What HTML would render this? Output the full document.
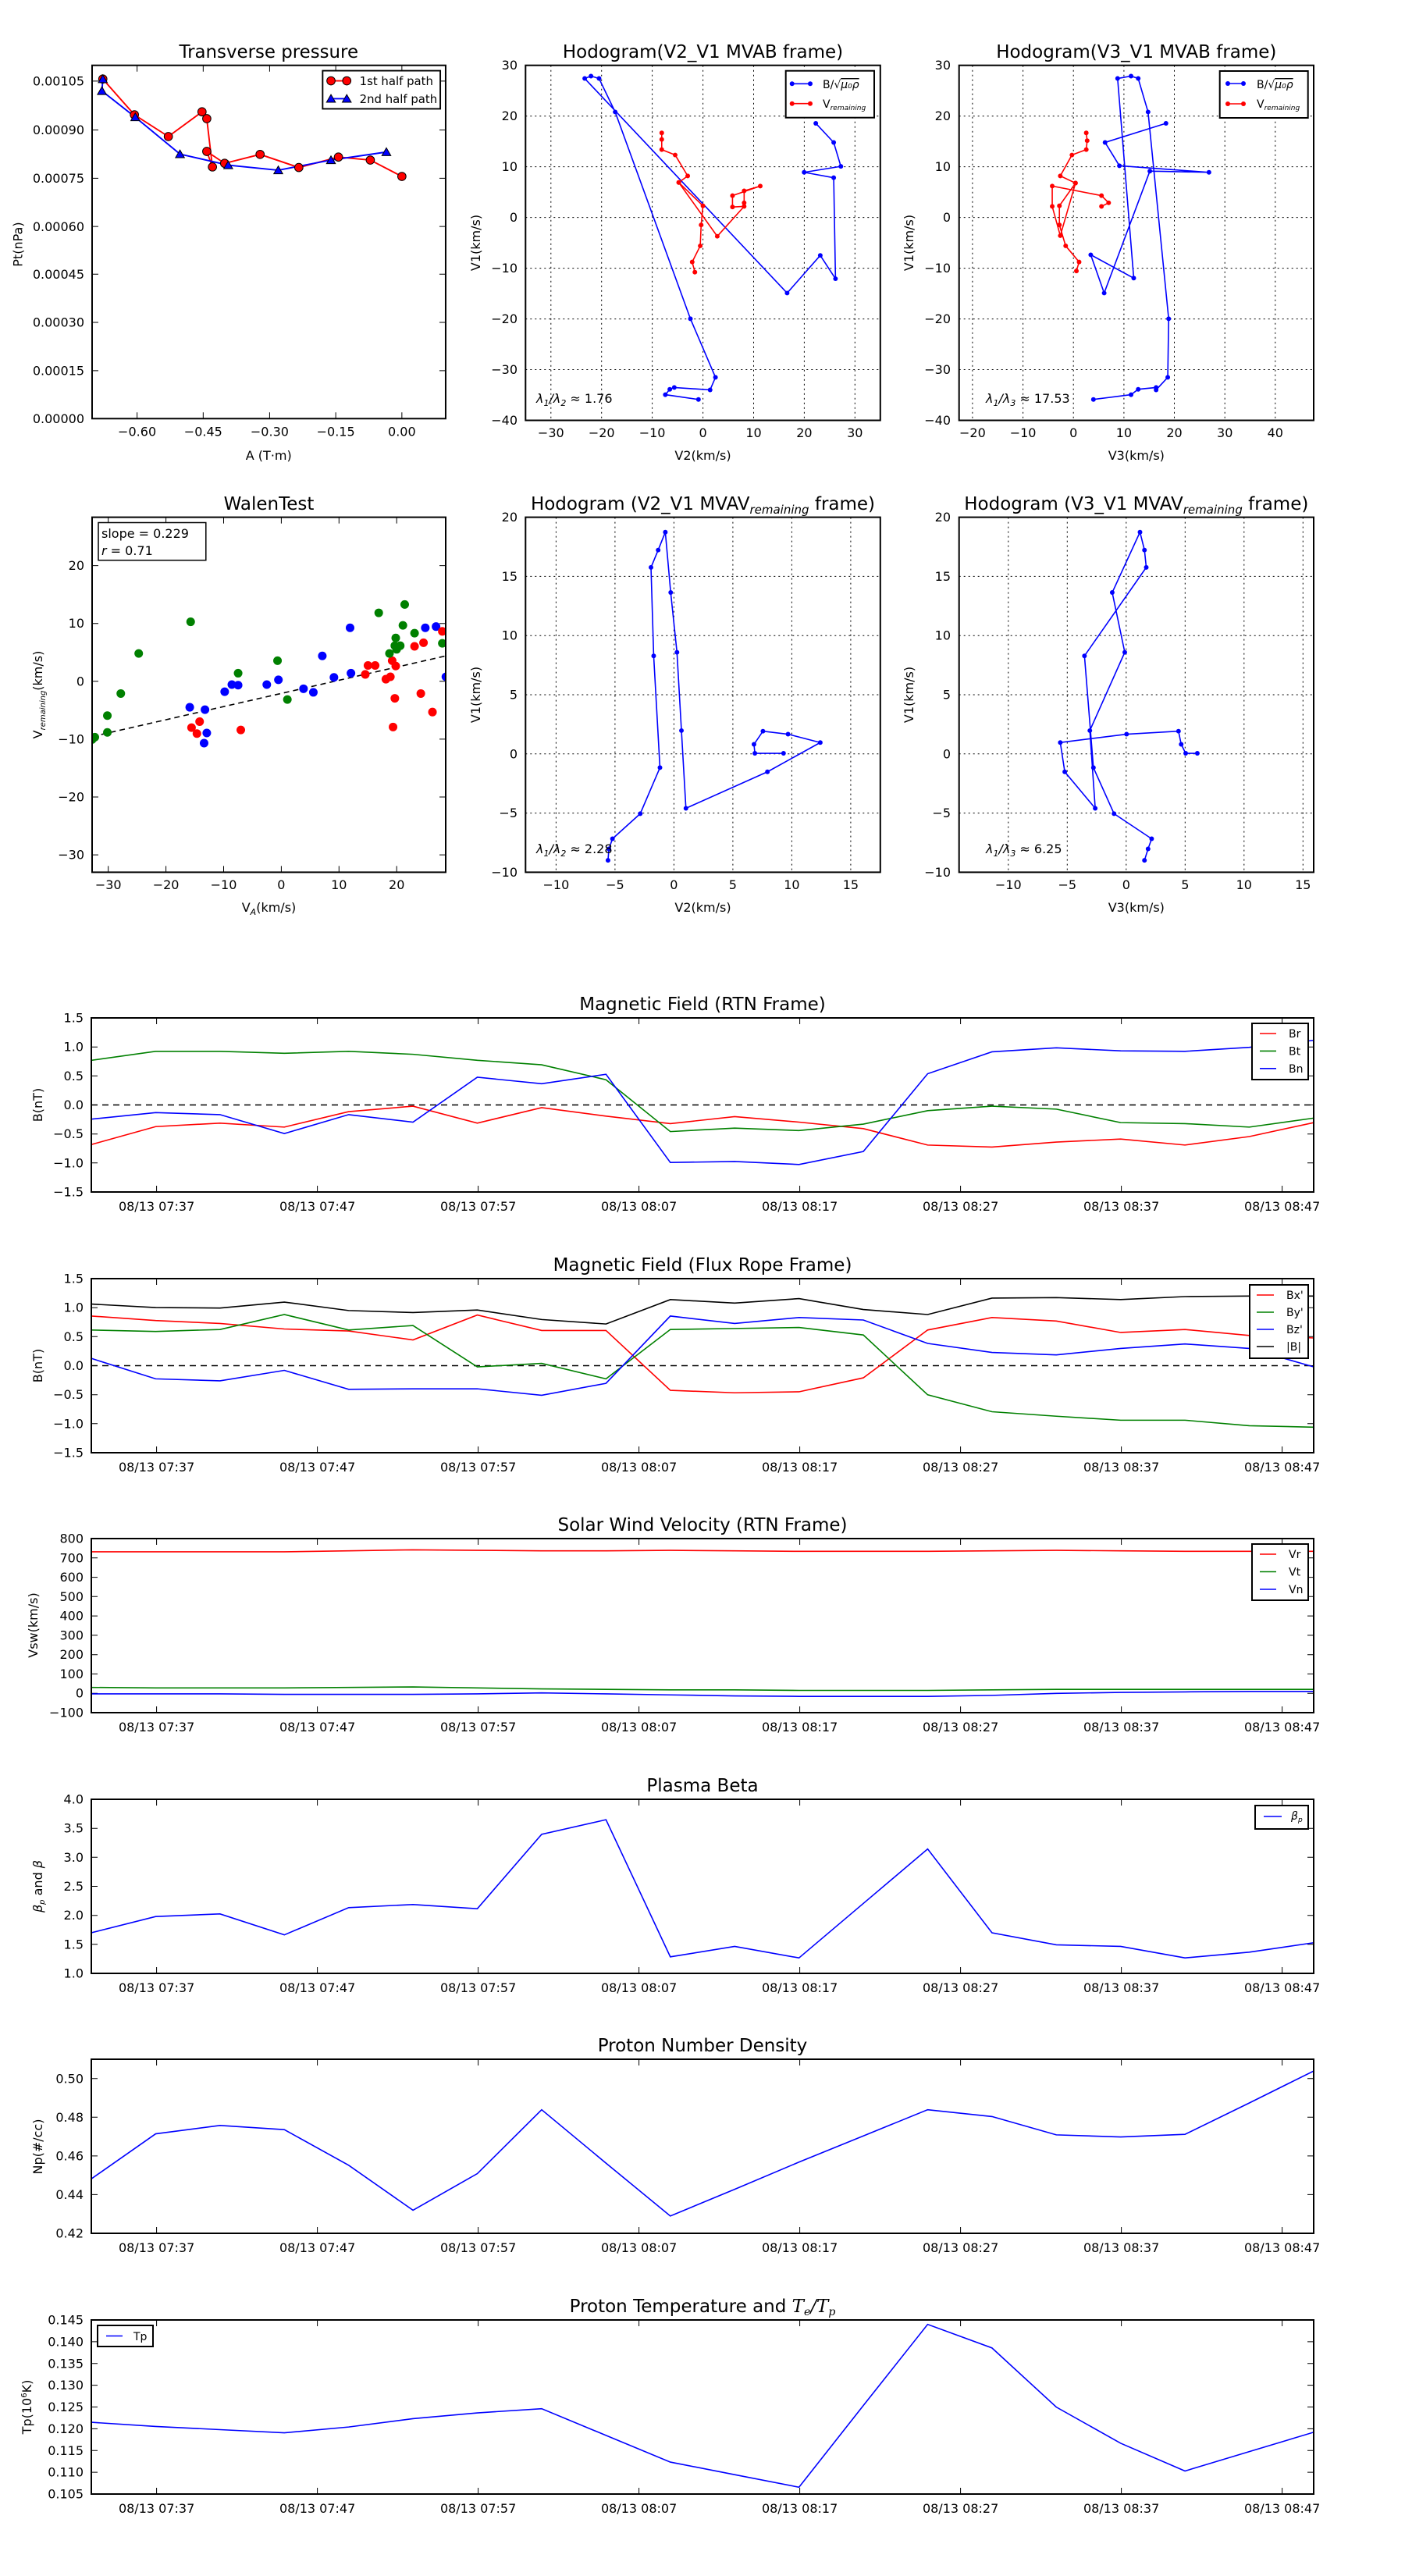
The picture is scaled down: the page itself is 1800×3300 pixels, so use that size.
<!DOCTYPE html>
<html><head><meta charset="utf-8"><style>
html,body{margin:0;padding:0;background:#fff}
svg{display:block}
text{font-family:"DejaVu Sans","Liberation Sans",sans-serif;fill:#000}
.t{font-size:16px}
.ti{font-size:23px;text-anchor:middle}
.yl{font-size:16px;text-anchor:end;dominant-baseline:central}
.xl{font-size:16px;text-anchor:middle}
.lg{font-size:14px}
.ax{fill:none;stroke:#000;stroke-width:2}
.tk{stroke:#000;stroke-width:1;fill:none}
.gr{stroke:#000;stroke-width:1;stroke-dasharray:2,4;fill:none}
.ln{fill:none;stroke-width:1.6;vector-effect:non-scaling-stroke}
</style></head><body>
<svg width="1800" height="3300" viewBox="0 0 1800 3300" xmlns="http://www.w3.org/2000/svg">
<defs>
<marker id="mb" markerUnits="userSpaceOnUse" overflow="visible" refX="0" refY="0"><ellipse cx="0" cy="0" rx="2.6" ry="3.9" fill="#0000ff"/></marker>
<marker id="mr" markerUnits="userSpaceOnUse" overflow="visible" refX="0" refY="0"><ellipse cx="0" cy="0" rx="2.6" ry="3.9" fill="#ff0000"/></marker>
<marker id="db" markerUnits="userSpaceOnUse" overflow="visible" refX="0" refY="0"><ellipse cx="0" cy="0" rx="4.8" ry="7.2" fill="#0000ff"/></marker>
<marker id="dr" markerUnits="userSpaceOnUse" overflow="visible" refX="0" refY="0"><ellipse cx="0" cy="0" rx="4.8" ry="7.2" fill="#ff0000"/></marker>
<marker id="dg" markerUnits="userSpaceOnUse" overflow="visible" refX="0" refY="0"><ellipse cx="0" cy="0" rx="4.8" ry="7.2" fill="#008000"/></marker>
<clipPath id="cW"><rect x="118" y="662.6" width="453" height="454.8"/></clipPath>
<clipPath id="cT1"><rect x="117" y="1304" width="1566" height="223"/></clipPath>
<clipPath id="cT2"><rect x="117" y="1638" width="1566" height="223"/></clipPath>
<clipPath id="cT3"><rect x="117" y="1971" width="1566" height="223"/></clipPath>
<clipPath id="cT4"><rect x="117" y="2305" width="1566" height="223"/></clipPath>
<clipPath id="cT5"><rect x="117" y="2638" width="1566" height="223"/></clipPath>
<clipPath id="cT6"><rect x="117" y="2972" width="1566" height="223"/></clipPath>
</defs>

<!-- ============ Transverse pressure ============ -->
<g transform="translate(1.6,0.13) scale(0.3816)">
<text x="898" y="193" style="font-size:60px;text-anchor:middle">Transverse pressure</text>
<path d="M305 272h21M305 436h21M305 598h21M305 760h21M305 920h21M305 1082h21M305 1244h21M1492 272h-21M1492 436h-21M1492 598h-21M1492 760h-21M1492 920h-21M1492 1082h-21M1492 1244h-21M456 219v21M678 219v21M901 219v21M1123 219v21M1345 219v21M456 1405v-21M678 1405v-21M901 1405v-21M1123 1405v-21M1345 1405v-21" stroke="#000" stroke-width="2.6" fill="none"/>
<g style="font-size:42px;text-anchor:end">
<text x="279" y="287">0.00105</text><text x="279" y="451">0.00090</text><text x="279" y="613">0.00075</text><text x="279" y="775">0.00060</text><text x="279" y="935">0.00045</text><text x="279" y="1097">0.00030</text><text x="279" y="1259">0.00015</text><text x="279" y="1420">0.00000</text>
</g>
<g style="font-size:42px;text-anchor:middle">
<text x="456" y="1463">−0.60</text><text x="678" y="1463">−0.45</text><text x="901" y="1463">−0.30</text><text x="1123" y="1463">−0.15</text><text x="1345" y="1463">0.00</text>
<text x="898" y="1543">A (T·m)</text>
</g>
<text transform="translate(70,820) rotate(-90)" style="font-size:42px;text-anchor:middle">Pt(nPa)</text>
<polyline points="341,265 447,385 561,458 674,375 690,398 709,560 690,508 750,548 869,518 999,562 1132,527 1239,537 1345,592" fill="none" stroke="#ff0000" stroke-width="5"/>
<polyline points="341,265 338,305 450,393 600,517 762,554 930,571 1107,537 1293,510" fill="none" stroke="#0000ff" stroke-width="5"/>
<g fill="#ff0000" stroke="#000" stroke-width="2.6">
<circle cx="341" cy="265" r="14"/><circle cx="447" cy="385" r="14"/><circle cx="561" cy="458" r="14"/><circle cx="674" cy="375" r="14"/><circle cx="690" cy="398" r="14"/><circle cx="709" cy="560" r="14"/><circle cx="690" cy="508" r="14"/><circle cx="750" cy="548" r="14"/><circle cx="869" cy="518" r="14"/><circle cx="999" cy="562" r="14"/><circle cx="1132" cy="527" r="14"/><circle cx="1239" cy="537" r="14"/><circle cx="1345" cy="592" r="14"/>
</g>
<g fill="#0000ff" stroke="#000" stroke-width="2.6">
<path d="M341 251l15 26h-30z"/><path d="M338 291l15 26h-30z"/><path d="M450 379l15 26h-30z"/><path d="M600 503l15 26h-30z"/><path d="M762 540l15 26h-30z"/><path d="M930 557l15 26h-30z"/><path d="M1107 523l15 26h-30z"/><path d="M1293 496l15 26h-30z"/>
</g>
<rect x="1079" y="237" width="395" height="128" fill="#fff" stroke="#000" stroke-width="5"/>
<line x1="1107" y1="271" x2="1160" y2="271" stroke="#ff0000" stroke-width="5"/>
<circle cx="1107" cy="271" r="14" fill="#ff0000" stroke="#000" stroke-width="2.6"/><circle cx="1160" cy="271" r="14" fill="#ff0000" stroke="#000" stroke-width="2.6"/>
<line x1="1107" y1="331" x2="1160" y2="331" stroke="#0000ff" stroke-width="5"/>
<path d="M1107 317l15 26h-30zM1160 317l15 26h-30z" fill="#0000ff" stroke="#000" stroke-width="2.6"/>
<text x="1203" y="285" style="font-size:39px">1st half path</text>
<text x="1203" y="345" style="font-size:39px">2nd half path</text>
<rect x="305" y="219" width="1187" height="1186" fill="none" stroke="#000" stroke-width="5.2"/>
</g>

<!-- ============ Hodogram 1 ============ -->
<text x="900.5" y="74" class="ti">Hodogram(V2_V1 MVAB frame)</text>
<path class="gr" d="M705.8 83.7V538.5M770.7 83.7V538.5M835.6 83.7V538.5M900.6 83.7V538.5M965.5 83.7V538.5M1030.4 83.7V538.5M1095.3 83.7V538.5M673.3 148.7H1127.8M673.3 213.6H1127.8M673.3 278.6H1127.8M673.3 343.6H1127.8M673.3 408.6H1127.8M673.3 473.5H1127.8"/>
<g class="yl"><text x="663" y="83.7">30</text><text x="663" y="148.7">20</text><text x="663" y="213.6">10</text><text x="663" y="278.6">0</text><text x="663" y="343.6">−10</text><text x="663" y="408.6">−20</text><text x="663" y="473.5">−30</text><text x="663" y="538.5">−40</text></g>
<g class="xl"><text x="705.8" y="560">−30</text><text x="770.7" y="560">−20</text><text x="835.6" y="560">−10</text><text x="900.6" y="560">0</text><text x="965.5" y="560">10</text><text x="1030.4" y="560">20</text><text x="1095.3" y="560">30</text><text x="900.5" y="589">V2(km/s)</text></g>
<text transform="translate(615,311) rotate(-90)" class="xl">V1(km/s)</text>
<g transform="matrix(1.1474,0,0,0.7657,1,0.24)">
<polyline class="ln" stroke="#0000ff" marker-start="url(#mb)" marker-mid="url(#mb)" marker-end="url(#mb)" points="779,668 742,660 747,651 752,648 792,652 798,631 770,533 686,187 668,131 659,127 652,131 878,490 915,427 932,466 930,297 897,288 938,278 930,238 910,206"/>
<polyline class="ln" stroke="#ff0000" marker-start="url(#mr)" marker-mid="url(#mr)" marker-end="url(#mr)" points="738,222 738,233 738,250 753,259 767,294 757,305 784,344 782,376 781,411 772,438 775,455"/>
<polyline class="ln" stroke="#ff0000" marker-start="url(#mr)" marker-mid="url(#mr)" marker-end="url(#mr)" points="757,305 800,395 830,345 817,346 817,327 848,311 830,319 830,339"/>
</g>
<text x="687" y="516" class="t" style="font-style:italic">λ<tspan dy="4" style="font-size:11px">1</tspan><tspan dy="-4">/λ</tspan><tspan dy="4" style="font-size:11px">2</tspan><tspan dy="-4" style="font-style:normal"> ≈ 1.76</tspan></text>
<rect x="1006.7" y="90.7" width="113.3" height="60" fill="#fff" stroke="#000" stroke-width="2"/>
<line x1="1014.7" y1="107.3" x2="1038" y2="107.3" stroke="#0000ff" stroke-width="1.6"/><circle cx="1014.7" cy="107.3" r="3" fill="#0000ff"/><circle cx="1038" cy="107.3" r="3" fill="#0000ff"/>
<line x1="1014.7" y1="132.7" x2="1038" y2="132.7" stroke="#ff0000" stroke-width="1.6"/><circle cx="1014.7" cy="132.7" r="3" fill="#ff0000"/><circle cx="1038" cy="132.7" r="3" fill="#ff0000"/>
<text x="1054" y="113" class="lg">B/√<tspan style="font-style:italic;text-decoration:overline">μ₀ρ</tspan></text>
<text x="1054" y="138" class="lg">V<tspan dy="3" style="font-size:9px;font-style:italic">remaining</tspan></text>
<rect x="673.3" y="83.7" width="454.5" height="454.8" class="ax"/>

<!-- ============ Hodogram 2 ============ -->
<text x="1455.8" y="74" class="ti">Hodogram(V3_V1 MVAB frame)</text>
<path class="gr" d="M1245.9 83.7V538.5M1310.6 83.7V538.5M1375.2 83.7V538.5M1439.9 83.7V538.5M1504.5 83.7V538.5M1569.2 83.7V538.5M1633.8 83.7V538.5M1228.7 148.7H1683M1228.7 213.6H1683M1228.7 278.6H1683M1228.7 343.6H1683M1228.7 408.6H1683M1228.7 473.5H1683"/>
<g class="yl"><text x="1218" y="83.7">30</text><text x="1218" y="148.7">20</text><text x="1218" y="213.6">10</text><text x="1218" y="278.6">0</text><text x="1218" y="343.6">−10</text><text x="1218" y="408.6">−20</text><text x="1218" y="473.5">−30</text><text x="1218" y="538.5">−40</text></g>
<g class="xl"><text x="1245.9" y="560">−20</text><text x="1310.6" y="560">−10</text><text x="1375.2" y="560">0</text><text x="1439.9" y="560">10</text><text x="1504.5" y="560">20</text><text x="1569.2" y="560">30</text><text x="1633.8" y="560">40</text><text x="1455.8" y="589">V3(km/s)</text></g>
<text transform="translate(1170,311) rotate(-90)" class="xl">V1(km/s)</text>
<g transform="matrix(1.1474,0,0,0.7657,1,0.24)">
<polyline class="ln" stroke="#0000ff" marker-start="url(#mb)" marker-mid="url(#mb)" marker-end="url(#mb)" points="1220,668 1262,660 1270,651 1290,648 1290,652 1303,631 1304,533 1281,187 1270,131 1262,127 1247,131 1265,465 1217,426 1232,490 1283,286 1349,288 1249,277 1233,238 1301,206"/>
<polyline class="ln" stroke="#ff0000" marker-start="url(#mr)" marker-mid="url(#mr)" marker-end="url(#mr)" points="1212,222 1213,235 1212,250 1196,259 1183,294 1200,306 1182,344 1182,376 1189,411 1204,438 1201,453"/>
<polyline class="ln" stroke="#ff0000" marker-start="url(#mr)" marker-mid="url(#mr)" marker-end="url(#mr)" points="1200,306 1183,394 1174,345 1174,311 1229,327 1237,339 1229,345"/>
</g>
<text x="1263" y="516" class="t" style="font-style:italic">λ<tspan dy="4" style="font-size:11px">1</tspan><tspan dy="-4">/λ</tspan><tspan dy="4" style="font-size:11px">3</tspan><tspan dy="-4" style="font-style:normal"> ≈ 17.53</tspan></text>
<rect x="1562.7" y="91" width="113" height="60" fill="#fff" stroke="#000" stroke-width="2"/>
<line x1="1573" y1="107" x2="1593" y2="107" stroke="#0000ff" stroke-width="1.6"/><circle cx="1573" cy="107" r="3" fill="#0000ff"/><circle cx="1593" cy="107" r="3" fill="#0000ff"/>
<line x1="1573" y1="133" x2="1593" y2="133" stroke="#ff0000" stroke-width="1.6"/><circle cx="1573" cy="133" r="3" fill="#ff0000"/><circle cx="1593" cy="133" r="3" fill="#ff0000"/>
<text x="1610" y="113" class="lg">B/√<tspan style="font-style:italic;text-decoration:overline">μ₀ρ</tspan></text>
<text x="1610" y="138" class="lg">V<tspan dy="3" style="font-size:9px;font-style:italic">remaining</tspan></text>
<rect x="1228.7" y="83.7" width="454.3" height="454.8" class="ax"/>

<!-- ============ Walen ============ -->
<text x="344.5" y="653" class="ti">WalenTest</text>
<path class="tk" d="M138.7 662.6v8M212.6 662.6v8M286.5 662.6v8M360.4 662.6v8M434.3 662.6v8M508.2 662.6v8M138.7 1117.4v-8M212.6 1117.4v-8M286.5 1117.4v-8M360.4 1117.4v-8M434.3 1117.4v-8M508.2 1117.4v-8M118 724.6h8M118 798.7h8M118 872.8h8M118 946.9h8M118 1021h8M118 1095.1h8M571 724.6h-8M571 798.7h-8M571 872.8h-8M571 946.9h-8M571 1021h-8M571 1095.1h-8"/>
<g class="yl"><text x="108" y="724.6">20</text><text x="108" y="798.7">10</text><text x="108" y="872.8">0</text><text x="108" y="946.9">−10</text><text x="108" y="1021">−20</text><text x="108" y="1095.1">−30</text></g>
<g class="xl"><text x="138.7" y="1139">−30</text><text x="212.6" y="1139">−20</text><text x="286.5" y="1139">−10</text><text x="360.4" y="1139">0</text><text x="434.3" y="1139">10</text><text x="508.2" y="1139">20</text><text x="344.5" y="1168">V<tspan dy="4" style="font-size:11px;font-style:italic">A</tspan><tspan dy="-4">(km/s)</tspan></text></g>
<text transform="translate(54,890) rotate(-90)" class="xl">V<tspan dy="4" style="font-size:10px;font-style:italic">remaining</tspan><tspan dy="-4">(km/s)</tspan></text>
<g clip-path="url(#cW)"><g transform="matrix(1.1474,0,0,0.7657,1,0.24)">
<line x1="102" y1="1232" x2="497" y2="1097" stroke="#000" stroke-width="1.6" stroke-dasharray="7,5" vector-effect="non-scaling-stroke"/>
<polyline fill="none" stroke="none" marker-start="url(#db)" marker-mid="url(#db)" marker-end="url(#db)" points="211,1183 228,1187 230,1226 227,1243 250,1157 258,1145 265,1146 297,1145 310,1137 338,1152 349,1158 359,1097 372,1133 390,1050 391,1126 474,1050 486,1048 497,1132"/>
<polyline fill="none" stroke="none" marker-start="url(#dr)" marker-mid="url(#dr)" marker-end="url(#dr)" points="213,1217 219,1227 222,1207 268,1221 407,1128 410,1113 418,1113 430,1136 435,1132 437,1105 441,1114 440,1168 438,1216 462,1081 469,1160 472,1075 482,1191 493,1056"/>
<polyline fill="none" stroke="none" marker-start="url(#dg)" marker-mid="url(#dg)" marker-end="url(#dg)" points="102,1237 105,1233 119,1225 119,1197 134,1160 154,1093 212,1040 265,1126 309,1105 320,1170 422,1025 434,1093 441,1067 440,1080 442,1086 449,1046 451,1011 462,1059 493,1076 446,1080"/>
</g></g>
<rect x="126" y="669.5" width="137.8" height="48.2" fill="#fff" stroke="#000" stroke-width="1.5"/>
<text x="130" y="689" class="t">slope = 0.229</text>
<text x="130" y="711" class="t"><tspan style="font-style:italic">r</tspan> = 0.71</text>
<rect x="118" y="662.6" width="453" height="454.8" class="ax"/>

<!-- ============ Hodogram 3 ============ -->
<text x="900.5" y="653" class="ti">Hodogram (V2_V1 MVAV<tspan dy="5" style="font-size:15px;font-style:italic">remaining</tspan><tspan dy="-5"> frame)</tspan></text>
<path class="gr" d="M712.4 662.6V1117.4M787.9 662.6V1117.4M863.4 662.6V1117.4M938.9 662.6V1117.4M1014.4 662.6V1117.4M1089.9 662.6V1117.4M673.3 738.4H1127.8M673.3 814.2H1127.8M673.3 890H1127.8M673.3 965.8H1127.8M673.3 1041.6H1127.8"/>
<g class="yl"><text x="663" y="662.6">20</text><text x="663" y="738.4">15</text><text x="663" y="814.2">10</text><text x="663" y="890">5</text><text x="663" y="965.8">0</text><text x="663" y="1041.6">−5</text><text x="663" y="1117.4">−10</text></g>
<g class="xl"><text x="712.4" y="1139">−10</text><text x="787.9" y="1139">−5</text><text x="863.4" y="1139">0</text><text x="938.9" y="1139">5</text><text x="1014.4" y="1139">10</text><text x="1089.9" y="1139">15</text><text x="900.5" y="1168">V2(km/s)</text></g>
<text transform="translate(615,890) rotate(-90)" class="xl">V1(km/s)</text>
<g transform="matrix(1.1474,0,0,0.7657,1,0.24)">
<polyline class="ln" stroke="#0000ff" marker-start="url(#mb)" marker-mid="url(#mb)" marker-end="url(#mb)" points="678,1439 679,1420 683,1403 714,1361 736,1284 729,1097 726,949 734,920 742,890 748,991 755,1091 760,1222 765,1352 856,1291 915,1242 879,1228 851,1223 841,1245 842,1260 874,1260"/>
</g>
<text x="687" y="1093" class="t" style="font-style:italic">λ<tspan dy="4" style="font-size:11px">1</tspan><tspan dy="-4">/λ</tspan><tspan dy="4" style="font-size:11px">2</tspan><tspan dy="-4" style="font-style:normal"> ≈ 2.28</tspan></text>
<rect x="673.3" y="662.6" width="454.5" height="454.8" class="ax"/>

<!-- ============ Hodogram 4 ============ -->
<text x="1455.8" y="653" class="ti">Hodogram (V3_V1 MVAV<tspan dy="5" style="font-size:15px;font-style:italic">remaining</tspan><tspan dy="-5"> frame)</tspan></text>
<path class="gr" d="M1291.8 662.6V1117.4M1367.3 662.6V1117.4M1442.8 662.6V1117.4M1518.3 662.6V1117.4M1593.8 662.6V1117.4M1669.3 662.6V1117.4M1228.7 738.4H1683M1228.7 814.2H1683M1228.7 890H1683M1228.7 965.8H1683M1228.7 1041.6H1683"/>
<g class="yl"><text x="1218" y="662.6">20</text><text x="1218" y="738.4">15</text><text x="1218" y="814.2">10</text><text x="1218" y="890">5</text><text x="1218" y="965.8">0</text><text x="1218" y="1041.6">−5</text><text x="1218" y="1117.4">−10</text></g>
<g class="xl"><text x="1291.8" y="1139">−10</text><text x="1367.3" y="1139">−5</text><text x="1442.8" y="1139">0</text><text x="1518.3" y="1139">5</text><text x="1593.8" y="1139">10</text><text x="1669.3" y="1139">15</text><text x="1455.8" y="1168">V3(km/s)</text></g>
<text transform="translate(1170,890) rotate(-90)" class="xl">V1(km/s)</text>
<g transform="matrix(1.1474,0,0,0.7657,1,0.24)">
<polyline class="ln" stroke="#0000ff" marker-start="url(#mb)" marker-mid="url(#mb)" marker-end="url(#mb)" points="1277,1439 1281,1420 1285,1403 1243,1361 1220,1284 1210,1097 1279,949 1277,920 1272,890 1241,991 1255,1091 1216,1222 1222,1352 1188,1291 1183,1242 1257,1228 1315,1223 1318,1245 1323,1260 1336,1260"/>
</g>
<text x="1263" y="1093" class="t" style="font-style:italic">λ<tspan dy="4" style="font-size:11px">1</tspan><tspan dy="-4">/λ</tspan><tspan dy="4" style="font-size:11px">3</tspan><tspan dy="-4" style="font-style:normal"> ≈ 6.25</tspan></text>
<rect x="1228.7" y="662.6" width="454.3" height="454.8" class="ax"/>

<!-- ============ Time series common ticks ============ -->
<g id="xtk">
<path class="tk" d="M200.6 1527v-8M406.6 1527v-8M612.6 1527v-8M818.6 1527v-8M1024.6 1527v-8M1230.6 1527v-8M1436.6 1527v-8M1642.6 1527v-8M200.6 1304v8M406.6 1304v8M612.6 1304v8M818.6 1304v8M1024.6 1304v8M1230.6 1304v8M1436.6 1304v8M1642.6 1304v8"/>
</g>
<g transform="translate(0,334)"><path class="tk" d="M200.6 1527v-8M406.6 1527v-8M612.6 1527v-8M818.6 1527v-8M1024.6 1527v-8M1230.6 1527v-8M1436.6 1527v-8M1642.6 1527v-8M200.6 1304v8M406.6 1304v8M612.6 1304v8M818.6 1304v8M1024.6 1304v8M1230.6 1304v8M1436.6 1304v8M1642.6 1304v8"/></g>
<g transform="translate(0,667)"><path class="tk" d="M200.6 1527v-8M406.6 1527v-8M612.6 1527v-8M818.6 1527v-8M1024.6 1527v-8M1230.6 1527v-8M1436.6 1527v-8M1642.6 1527v-8M200.6 1304v8M406.6 1304v8M612.6 1304v8M818.6 1304v8M1024.6 1304v8M1230.6 1304v8M1436.6 1304v8M1642.6 1304v8"/></g>
<g transform="translate(0,1001)"><path class="tk" d="M200.6 1527v-8M406.6 1527v-8M612.6 1527v-8M818.6 1527v-8M1024.6 1527v-8M1230.6 1527v-8M1436.6 1527v-8M1642.6 1527v-8M200.6 1304v8M406.6 1304v8M612.6 1304v8M818.6 1304v8M1024.6 1304v8M1230.6 1304v8M1436.6 1304v8M1642.6 1304v8"/></g>
<g transform="translate(0,1334)"><path class="tk" d="M200.6 1527v-8M406.6 1527v-8M612.6 1527v-8M818.6 1527v-8M1024.6 1527v-8M1230.6 1527v-8M1436.6 1527v-8M1642.6 1527v-8M200.6 1304v8M406.6 1304v8M612.6 1304v8M818.6 1304v8M1024.6 1304v8M1230.6 1304v8M1436.6 1304v8M1642.6 1304v8"/></g>
<g transform="translate(0,1668)"><path class="tk" d="M200.6 1527v-8M406.6 1527v-8M612.6 1527v-8M818.6 1527v-8M1024.6 1527v-8M1230.6 1527v-8M1436.6 1527v-8M1642.6 1527v-8M200.6 1304v8M406.6 1304v8M612.6 1304v8M818.6 1304v8M1024.6 1304v8M1230.6 1304v8M1436.6 1304v8M1642.6 1304v8"/></g>

<!-- x tick labels -->
<g class="xl">
<text x="200.6" y="1551">08/13 07:37</text><text x="406.6" y="1551">08/13 07:47</text><text x="612.6" y="1551">08/13 07:57</text><text x="818.6" y="1551">08/13 08:07</text><text x="1024.6" y="1551">08/13 08:17</text><text x="1230.6" y="1551">08/13 08:27</text><text x="1436.6" y="1551">08/13 08:37</text><text x="1642.6" y="1551">08/13 08:47</text>
<text x="200.6" y="1885">08/13 07:37</text><text x="406.6" y="1885">08/13 07:47</text><text x="612.6" y="1885">08/13 07:57</text><text x="818.6" y="1885">08/13 08:07</text><text x="1024.6" y="1885">08/13 08:17</text><text x="1230.6" y="1885">08/13 08:27</text><text x="1436.6" y="1885">08/13 08:37</text><text x="1642.6" y="1885">08/13 08:47</text>
<text x="200.6" y="2218">08/13 07:37</text><text x="406.6" y="2218">08/13 07:47</text><text x="612.6" y="2218">08/13 07:57</text><text x="818.6" y="2218">08/13 08:07</text><text x="1024.6" y="2218">08/13 08:17</text><text x="1230.6" y="2218">08/13 08:27</text><text x="1436.6" y="2218">08/13 08:37</text><text x="1642.6" y="2218">08/13 08:47</text>
<text x="200.6" y="2552">08/13 07:37</text><text x="406.6" y="2552">08/13 07:47</text><text x="612.6" y="2552">08/13 07:57</text><text x="818.6" y="2552">08/13 08:07</text><text x="1024.6" y="2552">08/13 08:17</text><text x="1230.6" y="2552">08/13 08:27</text><text x="1436.6" y="2552">08/13 08:37</text><text x="1642.6" y="2552">08/13 08:47</text>
<text x="200.6" y="2885">08/13 07:37</text><text x="406.6" y="2885">08/13 07:47</text><text x="612.6" y="2885">08/13 07:57</text><text x="818.6" y="2885">08/13 08:07</text><text x="1024.6" y="2885">08/13 08:17</text><text x="1230.6" y="2885">08/13 08:27</text><text x="1436.6" y="2885">08/13 08:37</text><text x="1642.6" y="2885">08/13 08:47</text>
<text x="200.6" y="3219">08/13 07:37</text><text x="406.6" y="3219">08/13 07:47</text><text x="612.6" y="3219">08/13 07:57</text><text x="818.6" y="3219">08/13 08:07</text><text x="1024.6" y="3219">08/13 08:17</text><text x="1230.6" y="3219">08/13 08:27</text><text x="1436.6" y="3219">08/13 08:37</text><text x="1642.6" y="3219">08/13 08:47</text>
</g>

<!-- ===== Panel 1 ===== -->
<text x="900" y="1294" class="ti">Magnetic Field (RTN Frame)</text>
<path class="tk" d="M117 1341.2h8M117 1378.3h8M117 1415.5h8M117 1452.7h8M117 1489.8h8M1683 1341.2h-8M1683 1378.3h-8M1683 1415.5h-8M1683 1452.7h-8M1683 1489.8h-8"/>
<g class="yl"><text x="107" y="1304">1.5</text><text x="107" y="1341.2">1.0</text><text x="107" y="1378.3">0.5</text><text x="107" y="1415.5">0.0</text><text x="107" y="1452.7">−0.5</text><text x="107" y="1489.8">−1.0</text><text x="107" y="1527">−1.5</text></g>
<text transform="translate(54,1415.5) rotate(-90)" class="xl">B(nT)</text>
<line x1="117" y1="1415.5" x2="1683" y2="1415.5" stroke="#000" stroke-width="1.5" stroke-dasharray="8,6"/>
<g clip-path="url(#cT1)"><g transform="matrix(82.42,0,0,0.6386,117,1249.1)">
<polyline class="ln" stroke="#ff0000" points="0,340 1,304 2,297 3,305 4,274 5,263 6,297 7,266 8,283 9,298 10,284 11,295 12,308 13,341 14,345 15,335 16,329 17,341 18,324 19,296"/>
<polyline class="ln" stroke="#008000" points="0,171 1,153 2,153 3,157 4,153 5,159 6,171 7,180 8,210 9,314 10,307 11,312 12,299 13,272 14,263 15,269 16,296 17,298 18,305 19,287"/>
<polyline class="ln" stroke="#0000ff" points="0,289 1,276 2,280 3,318 4,280 5,295 6,205 7,218 8,199 9,376 10,374 11,380 12,354 13,198 14,154 15,146 16,152 17,153 18,145 19,131"/>
</g></g>
<rect x="1604" y="1311" width="72" height="72" fill="#fff" stroke="#000" stroke-width="2"/>
<line x1="1614" y1="1324" x2="1635" y2="1324" stroke="#ff0000" stroke-width="1.6"/><line x1="1614" y1="1346.4" x2="1635" y2="1346.4" stroke="#008000" stroke-width="1.6"/><line x1="1614" y1="1368.8" x2="1635" y2="1368.8" stroke="#0000ff" stroke-width="1.6"/>
<g class="lg"><text x="1651" y="1329">Br</text><text x="1651" y="1351.4">Bt</text><text x="1651" y="1373.8">Bn</text></g>
<rect x="117" y="1304" width="1566" height="223" class="ax"/>

<!-- ===== Panel 2 ===== -->
<text x="900" y="1628" class="ti">Magnetic Field (Flux Rope Frame)</text>
<path class="tk" d="M117 1675.2h8M117 1712.3h8M117 1749.5h8M117 1786.7h8M117 1823.8h8M1683 1675.2h-8M1683 1712.3h-8M1683 1749.5h-8M1683 1786.7h-8M1683 1823.8h-8"/>
<g class="yl"><text x="107" y="1638">1.5</text><text x="107" y="1675.2">1.0</text><text x="107" y="1712.3">0.5</text><text x="107" y="1749.5">0.0</text><text x="107" y="1786.7">−0.5</text><text x="107" y="1823.8">−1.0</text><text x="107" y="1861">−1.5</text></g>
<text transform="translate(54,1749.5) rotate(-90)" class="xl">B(nT)</text>
<line x1="117" y1="1749.5" x2="1683" y2="1749.5" stroke="#000" stroke-width="1.5" stroke-dasharray="8,6"/>
<g clip-path="url(#cT2)"><g transform="matrix(82.42,0,0,0.6386,117,1249.1)">
<polyline class="ln" stroke="#ff0000" points="0,684 1,693 2,699 3,710 4,714 5,732 6,682 7,713 8,713 9,833 10,838 11,836 12,808 13,712 14,687 15,694 16,717 17,711 18,723 19,728"/>
<polyline class="ln" stroke="#008000" points="0,712 1,715 2,711 3,681 4,712 5,703 6,786 7,779 8,810 9,711 10,709 11,707 12,722 13,842 14,876 15,885 16,893 17,893 18,904 19,907"/>
<polyline class="ln" stroke="#0000ff" points="0,769 1,810 2,814 3,793 4,831 5,830 6,830 7,843 8,819 9,684 10,699 11,687 12,692 13,739 14,757 15,762 16,749 17,740 18,749 19,786"/>
<polyline class="ln" stroke="#000000" points="0,660 1,667 2,668 3,656 4,673 5,677 6,672 7,691 8,700 9,651 10,658 11,649 12,671 13,681 14,648 15,647 16,651 17,645 18,644 19,644"/>
</g></g>
<rect x="1601" y="1646" width="75" height="94" fill="#fff" stroke="#000" stroke-width="2"/>
<line x1="1610" y1="1659" x2="1632" y2="1659" stroke="#ff0000" stroke-width="1.6"/><line x1="1610" y1="1681" x2="1632" y2="1681" stroke="#008000" stroke-width="1.6"/><line x1="1610" y1="1703" x2="1632" y2="1703" stroke="#0000ff" stroke-width="1.6"/><line x1="1610" y1="1725" x2="1632" y2="1725" stroke="#000" stroke-width="1.6"/>
<g class="lg"><text x="1648" y="1664">Bx'</text><text x="1648" y="1686">By'</text><text x="1648" y="1708">Bz'</text><text x="1648" y="1730">|B|</text></g>
<rect x="117" y="1638" width="1566" height="223" class="ax"/>

<!-- ===== Panel 3 ===== -->
<text x="900" y="1961" class="ti">Solar Wind Velocity (RTN Frame)</text>
<path class="tk" d="M117 1995.8h8M117 2020.6h8M117 2045.3h8M117 2070.1h8M117 2094.9h8M117 2119.7h8M117 2144.4h8M117 2169.2h8M1683 1995.8h-8M1683 2020.6h-8M1683 2045.3h-8M1683 2070.1h-8M1683 2094.9h-8M1683 2119.7h-8M1683 2144.4h-8M1683 2169.2h-8"/>
<g class="yl"><text x="107" y="1971">800</text><text x="107" y="1995.8">700</text><text x="107" y="2020.6">600</text><text x="107" y="2045.3">500</text><text x="107" y="2070.1">400</text><text x="107" y="2094.9">300</text><text x="107" y="2119.7">200</text><text x="107" y="2144.4">100</text><text x="107" y="2169.2">0</text><text x="107" y="2194">−100</text></g>
<text transform="translate(48,2082) rotate(-90)" class="xl">Vsw(km/s)</text>
<g clip-path="url(#cT3)"><g transform="matrix(82.42,0,0,0.6386,117,1249.1)">
<polyline class="ln" stroke="#ff0000" points="0,1157 1,1157 2,1157 3,1157 4,1155 5,1153 6,1154 7,1155 8,1155 9,1154 10,1155 11,1156 12,1156 13,1156 14,1155 15,1154 16,1155 17,1156 18,1156 19,1156"/>
<polyline class="ln" stroke="#008000" points="0,1429 1,1430 2,1430 3,1430 4,1429 5,1428 6,1430 7,1432 8,1433 9,1434 10,1434 11,1435 12,1435 13,1435 14,1434 15,1433 16,1433 17,1433 18,1433 19,1433"/>
<polyline class="ln" stroke="#0000ff" points="0,1442 1,1442 2,1442 3,1443 4,1443 5,1443 6,1442 7,1440 8,1442 9,1444 10,1446 11,1447 12,1447 13,1447 14,1445 15,1441 16,1439 17,1438 18,1437 19,1437"/>
</g></g>
<rect x="1604" y="1978" width="72" height="72" fill="#fff" stroke="#000" stroke-width="2"/>
<line x1="1614" y1="1991" x2="1635" y2="1991" stroke="#ff0000" stroke-width="1.6"/><line x1="1614" y1="2013.5" x2="1635" y2="2013.5" stroke="#008000" stroke-width="1.6"/><line x1="1614" y1="2036" x2="1635" y2="2036" stroke="#0000ff" stroke-width="1.6"/>
<g class="lg"><text x="1651" y="1996">Vr</text><text x="1651" y="2018.5">Vt</text><text x="1651" y="2041">Vn</text></g>
<rect x="117" y="1971" width="1566" height="223" class="ax"/>

<!-- ===== Panel 4 ===== -->
<text x="900" y="2295" class="ti">Plasma Beta</text>
<path class="tk" d="M117 2342.2h8M117 2379.3h8M117 2416.5h8M117 2453.7h8M117 2490.8h8M1683 2342.2h-8M1683 2379.3h-8M1683 2416.5h-8M1683 2453.7h-8M1683 2490.8h-8"/>
<g class="yl"><text x="107" y="2305">4.0</text><text x="107" y="2342.2">3.5</text><text x="107" y="2379.3">3.0</text><text x="107" y="2416.5">2.5</text><text x="107" y="2453.7">2.0</text><text x="107" y="2490.8">1.5</text><text x="107" y="2528">1.0</text></g>
<text transform="translate(54,2416.5) rotate(-90)" class="xl"><tspan style="font-style:italic">β</tspan><tspan dy="3" style="font-size:10px;font-style:italic">p</tspan><tspan dy="-3"> and </tspan><tspan style="font-style:italic">β</tspan></text>
<g clip-path="url(#cT4)"><g transform="matrix(82.42,0,0,0.6707,117,2249.3)">
<polyline class="ln" stroke="#0000ff" points="0,338 1,307 2,302 3,342 4,290 5,284 6,292 7,150 8,122 9,384 10,364 11,386 12,282 13,178 14,338 15,361 16,364 17,386 18,375 19,357"/>
</g></g>
<rect x="1608" y="2313" width="68" height="30" fill="#fff" stroke="#000" stroke-width="2"/>
<line x1="1619" y1="2327" x2="1642" y2="2327" stroke="#0000ff" stroke-width="1.6"/>
<text x="1654" y="2331" class="lg" style="font-style:italic">β<tspan dy="3" style="font-size:9px">p</tspan></text>
<rect x="117" y="2305" width="1566" height="223" class="ax"/>

<!-- ===== Panel 5 ===== -->
<text x="900" y="2628" class="ti">Proton Number Density</text>
<path class="tk" d="M117 2662.8h8M117 2712.3h8M117 2761.9h8M117 2811.4h8M1683 2662.8h-8M1683 2712.3h-8M1683 2761.9h-8M1683 2811.4h-8"/>
<g class="yl"><text x="107" y="2662.8">0.50</text><text x="107" y="2712.3">0.48</text><text x="107" y="2761.9">0.46</text><text x="107" y="2811.4">0.44</text><text x="107" y="2861">0.42</text></g>
<text transform="translate(54,2750) rotate(-90)" class="xl">Np(#/cc)</text>
<g clip-path="url(#cT5)"><g transform="matrix(82.42,0,0,0.6707,117,2249.3)">
<polyline class="ln" stroke="#0000ff" points="0,808 1,722 2,706 3,714 4,782 5,868 6,798 7,676 8,778 9,879 10,828 11,776 12,726 13,676 14,689 15,724 16,728 17,723 18,663 19,602"/>
</g></g>
<rect x="117" y="2638" width="1566" height="223" class="ax"/>

<!-- ===== Panel 6 ===== -->
<text x="900" y="2962" class="ti">Proton Temperature and <tspan style="font-family:'DejaVu Serif','Liberation Serif',serif;font-style:italic">T<tspan dy="4" style="font-size:14px">e</tspan><tspan dy="-4">/T</tspan><tspan dy="4" style="font-size:14px">p</tspan></tspan></text>
<path class="tk" d="M117 2999.9h8M117 3027.8h8M117 3055.6h8M117 3083.5h8M117 3111.4h8M117 3139.3h8M117 3167.1h8M1683 2999.9h-8M1683 3027.8h-8M1683 3055.6h-8M1683 3083.5h-8M1683 3111.4h-8M1683 3139.3h-8M1683 3167.1h-8"/>
<g class="yl"><text x="107" y="2972">0.145</text><text x="107" y="2999.9">0.140</text><text x="107" y="3027.8">0.135</text><text x="107" y="3055.6">0.130</text><text x="107" y="3083.5">0.125</text><text x="107" y="3111.4">0.120</text><text x="107" y="3139.3">0.115</text><text x="107" y="3167.1">0.110</text><text x="107" y="3195">0.105</text></g>
<text transform="translate(40,3083.5) rotate(-90)" class="xl">Tp(10<tspan dy="-6" style="font-size:10px">6</tspan><tspan dy="6">K)</tspan></text>
<g clip-path="url(#cT6)"><g transform="matrix(82.42,0,0,0.6707,117,2249.3)">
<polyline class="ln" stroke="#0000ff" points="0,1273 1,1281 2,1287 3,1293 4,1282 5,1266 6,1255 7,1247 8,1298 9,1349 10,1373 11,1397 12,1241 13,1086 14,1131 15,1244 16,1313 17,1366 18,1329 19,1292"/>
</g></g>
<rect x="125" y="2979" width="71" height="27" fill="#fff" stroke="#000" stroke-width="2"/>
<line x1="136" y1="2992.5" x2="157" y2="2992.5" stroke="#0000ff" stroke-width="1.6"/>
<text x="171" y="2998" class="lg">Tp</text>
<rect x="117" y="2972" width="1566" height="223" class="ax"/>
</svg>
</body></html>
